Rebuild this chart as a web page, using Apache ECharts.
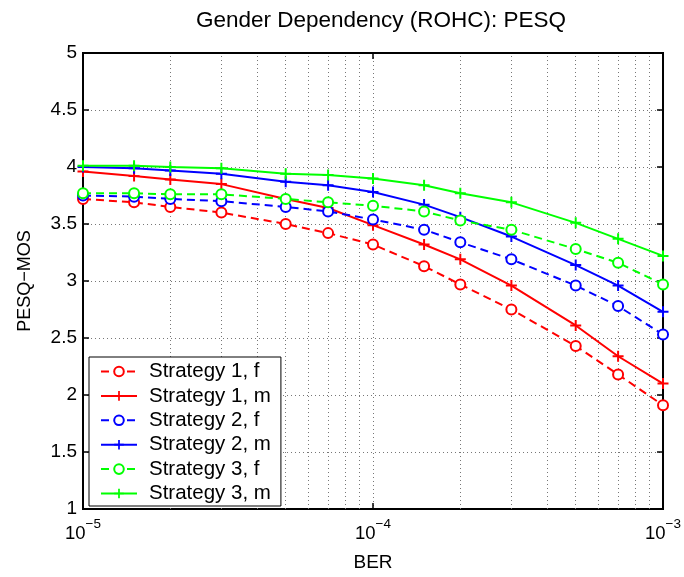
<!DOCTYPE html>
<html>
<head>
<meta charset="utf-8">
<script src="https://cdn.jsdelivr.net/npm/echarts@6/dist/echarts.min.js"></script>
<style>html,body{margin:0;padding:0;background:#fff}#c{width:684px;height:577px}</style>
</head>
<body>
<div id="c"></div>
<script>
const ber = [1e-5,1.5e-5,2e-5,3e-5,5e-5,7e-5,1e-4,1.5e-4,2e-4,3e-4,5e-4,7e-4,1e-3];
const s1f = [3.72,3.69,3.65,3.60,3.50,3.42,3.32,3.13,2.97,2.75,2.43,2.18,1.91];
const s1m = [3.96,3.92,3.89,3.85,3.72,3.64,3.49,3.32,3.19,2.96,2.61,2.34,2.10];
const s2f = [3.75,3.74,3.72,3.70,3.65,3.61,3.54,3.45,3.34,3.19,2.96,2.78,2.53];
const s2m = [4.00,3.99,3.97,3.94,3.87,3.84,3.78,3.67,3.56,3.39,3.14,2.96,2.73];
const s3f = [3.77,3.77,3.76,3.76,3.72,3.69,3.66,3.61,3.53,3.45,3.28,3.16,2.97];
const s3m = [4.01,4.01,4.00,3.99,3.94,3.93,3.90,3.84,3.77,3.69,3.51,3.37,3.22];
const names = ['Strategy 1, f','Strategy 1, m','Strategy 2, f','Strategy 2, m','Strategy 3, f','Strategy 3, m'];
const minorX = [2e-5,3e-5,4e-5,5e-5,6e-5,7e-5,8e-5,9e-5,2e-4,3e-4,4e-4,5e-4,6e-4,7e-4,8e-4,9e-4];
const yMin = 1, yMax = 5;
const title = 'Gender Dependency (ROHC): PESQ';
const xName = 'BER';
const yName = 'PESQ\u2212MOS';

const FONT = 'Liberation Sans, Arial, sans-serif';
const plus = 'path://M4.1,0h1.8v4.1h4.1v1.8h-4.1v4.1h-1.8v-4.1h-4.1v-1.8h4.1z';
const gridStyle = {color:'#777', width:1, type:[1,3]};

function mk(name, vals, color, female){
  return {
    name, type:'line', z:3,
    data: ber.map((b,i)=>[b, vals[i]]),
    symbol: female ? 'emptyCircle' : plus,
    symbolSize: female ? 10 : 11,
    showAllSymbol: true,
    lineStyle:{color, width:2, type: female ? [8,5] : 'solid'},
    itemStyle:{color, borderColor:color, borderWidth: female ? 2.2 : 0},
    emphasis:{disabled:true},
    animation:false
  };
}

const series = [
  mk(names[0], s1f, '#ff0000', true),
  mk(names[1], s1m, '#ff0000', false),
  mk(names[2], s2f, '#0000ff', true),
  mk(names[3], s2m, '#0000ff', false),
  mk(names[4], s3f, '#00ff00', true),
  mk(names[5], s3m, '#00ff00', false)
];
series[0].markLine = {silent:true, z:1, symbol:['none','none'], label:{show:false}, animation:false,
  lineStyle:gridStyle, emphasis:{disabled:true},
  data: minorX.map(v=>[{xAxis:v, yAxis:yMin},{xAxis:v, yAxis:yMax}])};

const chart = echarts.init(document.getElementById('c'), null, {renderer:'canvas'});
chart.setOption({
  animation:false,
  backgroundColor:'#fff',
  textStyle:{fontFamily:FONT},
  title:{text:title, left:376, textAlign:'center', top:4,
    textStyle:{fontFamily:FONT, fontSize:22.5, fontWeight:'normal', color:'#000'}},
  grid:{left:83, right:20, top:53, bottom:68, show:true, borderColor:'#000', borderWidth:2},
  legend:{
    z:20,
    data:names, orient:'vertical', left:89, top:357,
    width:193, padding:[4,10,2,11], itemGap:3.4,
    itemWidth:36, itemHeight:12,
    backgroundColor:'#fff', borderColor:'#000', borderWidth:1,
    textStyle:{fontFamily:FONT, fontSize:20.5, lineHeight:20, color:'#000', padding:[0,0,0,7]}
  },
  xAxis:[{
    type:'log', logBase:10, min:1e-5, max:1e-3,
    name:xName, nameLocation:'middle', nameGap:44,
    nameTextStyle:{fontFamily:FONT, fontSize:19, color:'#000'},
    axisLine:{show:true, lineStyle:{color:'#000', width:2}},
    axisTick:{show:true, inside:true, length:6, lineStyle:{color:'#000', width:1.5}},
    axisLabel:{color:'#000', margin:8,
      formatter: v => '{b|10}{s|\u2212' + Math.abs(Math.round(Math.log10(v))) + '}',
      rich:{b:{fontFamily:FONT, fontSize:18.5, color:'#000', lineHeight:26, verticalAlign:'bottom'},
            s:{fontFamily:FONT, fontSize:13.5, color:'#000', lineHeight:26, verticalAlign:'top', padding:[0,0,10,0]}}},
    splitLine:{show:true, lineStyle:gridStyle}
  },{
    type:'log', logBase:10, min:1e-5, max:1e-3, position:'top',
    axisLine:{show:true, lineStyle:{color:'#000', width:2}},
    axisTick:{show:true, inside:true, length:6, lineStyle:{color:'#000', width:1.5}},
    axisLabel:{show:false}, splitLine:{show:false}
  }],
  yAxis:[{
    type:'value', min:yMin, max:yMax, interval:0.5,
    name:yName, nameLocation:'middle', nameGap:49,
    nameTextStyle:{fontFamily:FONT, fontSize:18, color:'#000'},
    axisLine:{show:true, lineStyle:{color:'#000', width:2}},
    axisTick:{show:true, inside:true, length:6, lineStyle:{color:'#000', width:1.5}},
    axisLabel:{color:'#000', fontFamily:FONT, fontSize:19, margin:6},
    splitLine:{show:true, lineStyle:gridStyle}
  },{
    type:'value', min:yMin, max:yMax, interval:0.5, position:'right',
    axisLine:{show:true, lineStyle:{color:'#000', width:2}},
    axisTick:{show:true, inside:true, length:6, lineStyle:{color:'#000', width:1.5}},
    axisLabel:{show:false}, splitLine:{show:false}
  }],
  series: series
});
</script>
</body>
</html>
